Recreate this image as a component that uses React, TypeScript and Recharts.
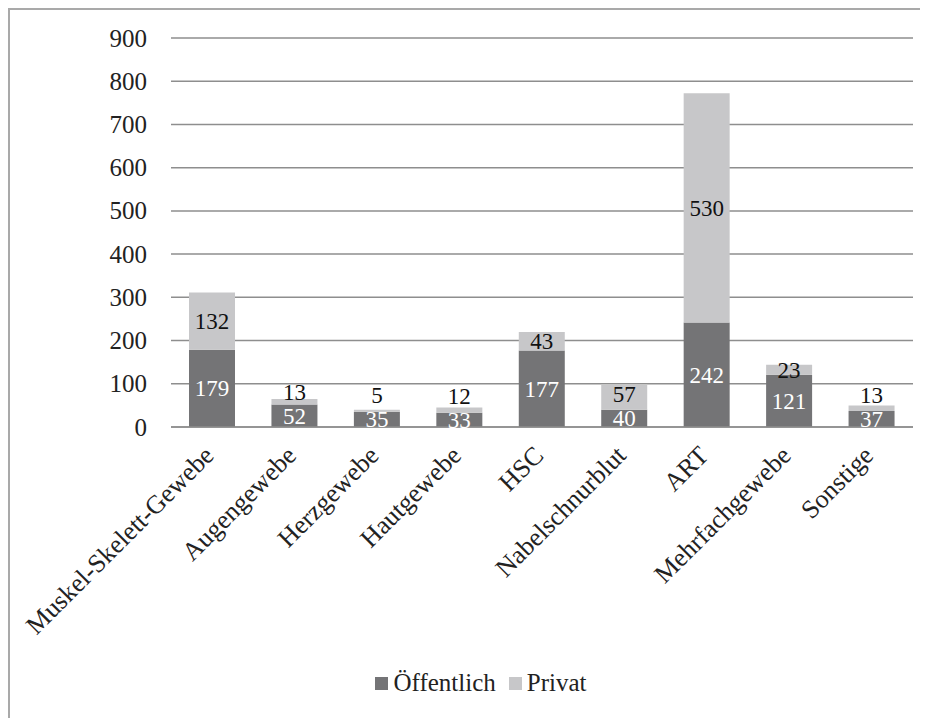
import React from 'react';
import { BarChart, Bar, XAxis, YAxis, CartesianGrid, Legend, LabelList } from 'recharts';

const categories = [
  'Muskel-Skelett-Gewebe',
  'Augengewebe',
  'Herzgewebe',
  'Hautgewebe',
  'HSC',
  'Nabelschnurblut',
  'ART',
  'Mehrfachgewebe',
  'Sonstige',
];
const oeffentlich = [179, 52, 35, 33, 177, 40, 242, 121, 37];
const privat = [132, 13, 5, 12, 43, 57, 530, 23, 13];
const yTicks = [0, 100, 200, 300, 400, 500, 600, 700, 800, 900];

const rows = categories.map((name, i) => ({
  name,
  oeffentlich: oeffentlich[i],
  privat: privat[i],
}));

const FONT = 'Liberation Serif';
const DARK = '#747476';
const LIGHT = '#c7c7c9';
const GRID = '#8e8e8e';

const CatTick = (props: any) => {
  const { x, y, payload } = props;
  const tx = x + 3;
  const ty = y + 28;
  return (
    <text
      x={tx}
      y={ty}
      transform={`rotate(-45 ${tx} ${ty})`}
      textAnchor="end"
      style={{ fontFamily: FONT, fontSize: 26 }}
      fill="#222"
    >
      {payload.value}
    </text>
  );
};

const ValTick = (props: any) => {
  const { x, y, payload } = props;
  return (
    <text x={x} y={y} dy="0.34em" textAnchor="end"
      style={{ fontFamily: FONT, fontSize: 25 }} fill="#222">
      {payload.value}
    </text>
  );
};

const DarkLabel = (props: any) => {
  const x = Number(props.x), y = Number(props.y);
  const w = Number(props.width), h = Number(props.height);
  return (
    <text x={x + w / 2} y={y + h / 2} dy="0.34em" textAnchor="middle"
      style={{ fontFamily: FONT, fontSize: 23 }} fill="#fff">
      {props.value}
    </text>
  );
};

const LightLabel = (props: any) => {
  const x = Number(props.x), y = Number(props.y);
  const w = Number(props.width), h = Number(props.height);
  const v = Number(props.value);
  const scale = v ? h / v : 0;
  const darkH = oeffentlich[props.index] * scale;
  const center = y + h / 2;
  const darkCenter = y + h + darkH / 2;
  // keep clear of the dark segment's label
  const cy = Math.min(center, darkCenter - 24);
  return (
    <text x={x + w / 2} y={cy} dy="0.34em" textAnchor="middle"
      style={{ fontFamily: FONT, fontSize: 23 }} fill="#111">
      {props.value}
    </text>
  );
};

const LegendBox = () => (
  <div style={{ display: 'flex', justifyContent: 'center', alignItems: 'center',
    paddingLeft: 39, fontFamily: FONT, fontSize: 25, color: '#222', height: 40 }}>
    <span style={{ width: 13, height: 13, background: DARK, display: 'inline-block', marginRight: 5 }} />
    <span style={{ marginRight: 13 }}>Öffentlich</span>
    <span style={{ width: 13, height: 13, background: LIGHT, display: 'inline-block', marginRight: 5 }} />
    <span>Privat</span>
  </div>
);

export default function App() {
  return (
    <div style={{ width: 920, height: 710, overflow: 'hidden', fontFamily: FONT }}>
      <div style={{ width: 940, height: 740, border: '2px solid #a9a9a9', boxSizing: 'border-box', background: '#fff' }}>
        <BarChart
          width={918}
          height={708}
          data={rows}
          margin={{ top: 28, right: 15, left: 0, bottom: 15 }}
        >
          <CartesianGrid vertical={false} stroke={GRID} strokeWidth={1.5} />
          <XAxis
            dataKey="name"
            interval={0}
            height={236}
            tick={<CatTick />}
            tickLine={false}
            tickSize={0}
            axisLine={{ stroke: GRID, strokeWidth: 1.5 }}
          />
          <YAxis
            width={161}
            domain={[0, 900]}
            ticks={yTicks}
            axisLine={false}
            tickLine={false}
            tickSize={0}
            tickMargin={24}
            tick={<ValTick />}
          />
          <Legend verticalAlign="bottom" height={40} content={<LegendBox />} />
          <Bar dataKey="oeffentlich" name="Öffentlich" stackId="a" fill={DARK} barSize={46} isAnimationActive={false}>
            <LabelList dataKey="oeffentlich" content={<DarkLabel />} />
          </Bar>
          <Bar dataKey="privat" name="Privat" stackId="a" fill={LIGHT} barSize={46} isAnimationActive={false}>
            <LabelList dataKey="privat" content={<LightLabel />} />
          </Bar>
        </BarChart>
      </div>
    </div>
  );
}
